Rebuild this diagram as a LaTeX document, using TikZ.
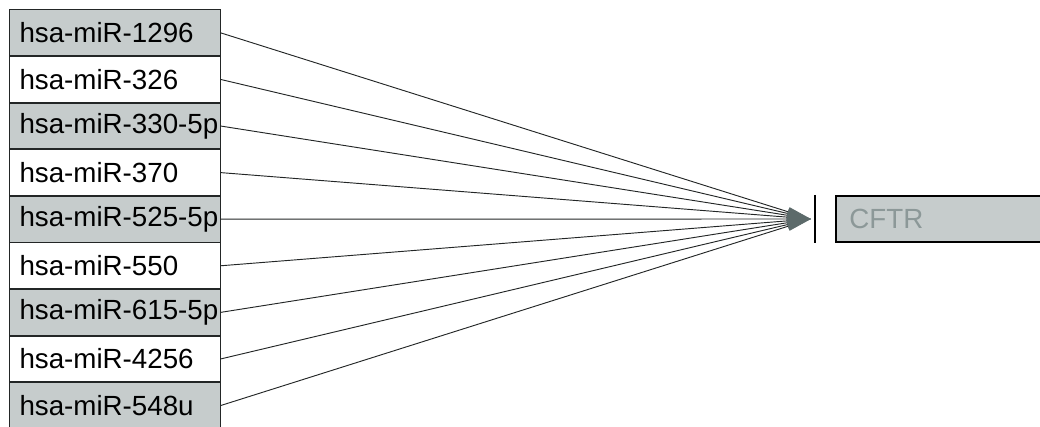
\documentclass[tikz,border=0pt]{standalone}
\usepackage{fontspec}
\setmainfont{Liberation Sans}
\usetikzlibrary{arrows.meta, positioning}
\definecolor{mir-gray}{RGB}{198,204,204}
\definecolor{mir-dark}{RGB}{35,38,38}
\definecolor{cftr-text}{RGB}{140,152,152}
\definecolor{tip-gray}{RGB}{92,106,106}
\exhyphenpenalty=10000
\hyphenpenalty=10000

\begin{document}
\begin{tikzpicture}[x=0.75pt, y=-0.75pt,
  mir/.style={draw=mir-dark, line width=1.3pt, outer sep=0pt, minimum width=158.25pt, minimum height=34.95pt, text width=143.25pt, inner xsep=7.5pt, inner ysep=0pt, align=left, font=\fontsize{20.8}{24}\selectfont},
  shaded/.style={mir, fill=mir-gray},
  link/.style={-{Triangle[length=18pt, width=7pt, color=tip-gray]}, line width=0.7pt, draw=mir-dark},
  bar/.style={line width=1.1pt, black},
  target/.style={draw=black, line width=2.2pt, outer sep=0pt, fill=mir-gray, minimum width=200pt, minimum height=34.5pt, text width=180pt, inner xsep=6.5pt, align=left, text=cftr-text, font=\fontsize{20.8}{24}\selectfont},
]
  \useasboundingbox (0,0) rectangle (1040,427);

  \node[shaded, anchor=north west] (m1296) at (9.5,9.5) {hsa-miR-1296};
  \node[mir, below=0pt of m1296] (m326) {hsa-miR-326};
  \node[shaded, below=0pt of m326] (m330) {hsa-miR-330-5p};
  \node[mir, below=0pt of m330] (m370) {hsa-miR-370};
  \node[shaded, below=0pt of m370] (m525) {hsa-miR-525-5p};
  \node[mir, below=0pt of m525] (m550) {hsa-miR-550};
  \node[shaded, below=0pt of m550] (m615) {hsa-miR-615-5p};
  \node[mir, below=0pt of m615] (m4256) {hsa-miR-4256};
  \node[shaded, below=0pt of m4256] (m548) {hsa-miR-548u};

  % target gene and inhibition bar
  \coordinate (tip) at (811,219);
  \node[target, anchor=north west] (cftr) at (836,196) {CFTR};
  \draw[bar] (815,195) -- (815,243);

  \draw[link] (m1296.east) -- (tip);
  \draw[link] (m326.east) -- (tip);
  \draw[link] (m330.east) -- (tip);
  \draw[link] (m370.east) -- (tip);
  \draw[link] (m525.east) -- (tip);
  \draw[link] (m550.east) -- (tip);
  \draw[link] (m615.east) -- (tip);
  \draw[link] (m4256.east) -- (tip);
  \draw[link] (m548.east) -- (tip);
\end{tikzpicture}
\end{document}
